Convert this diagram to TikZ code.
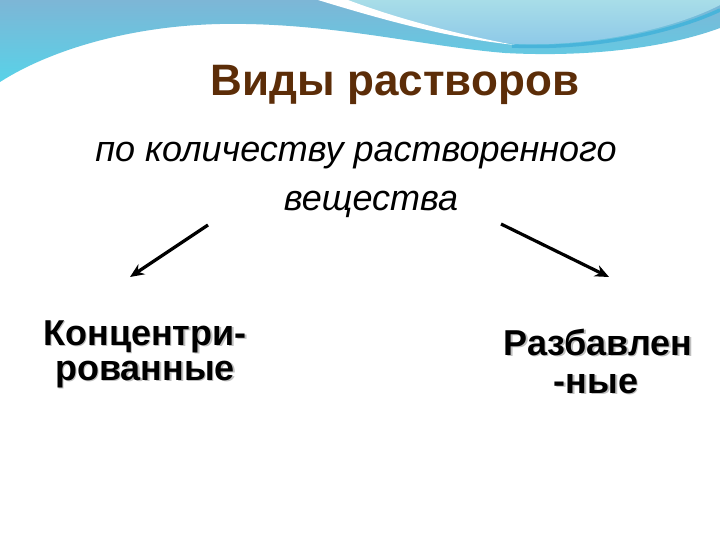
\documentclass[tikz,border=0pt]{standalone}
\usepackage{fontspec}
\setmainfont{Liberation Sans}
\usetikzlibrary{arrows.meta}
\definecolor{titlebrown}{HTML}{5C2D08}
\definecolor{wavetop}{HTML}{7DB6D6}
\definecolor{wavebot}{HTML}{58D2E8}
\definecolor{wavelight}{HTML}{A8DDE8}
\definecolor{wavelight2}{HTML}{8CC8E8}
\definecolor{waveband}{HTML}{48B4DA}
\newcommand{\shtext}[1]{\makebox[0pt][l]{\raisebox{-1.6pt}{\hspace{1.6pt}\textcolor{black!25}{#1}}}#1}
\tikzset{
  titletext/.style={anchor=base, inner sep=0pt, text=titlebrown, font=\fontsize{44}{48}\selectfont\bfseries},
  subtext/.style={anchor=base, inner sep=0pt, font=\fontsize{36}{40}\selectfont\itshape},
  kindtext/.style={anchor=base, inner sep=0pt, text height=26pt, text depth=7pt, font=\fontsize{36}{40}\selectfont\bfseries},
  branch/.style={line width=3.2pt, -{Stealth[length=14pt,width=12pt]}}
}
\begin{document}
\begin{tikzpicture}[x=1pt,y=-1pt]
\useasboundingbox (0,0) rectangle (720,540);
\fill[white] (0,0) rectangle (720,540);
% background wave
\shade[top color=wavetop, bottom color=wavebot]
  (0,0) -- (720,0) -- (720,28) .. controls (660,50) and (580,57) .. (505,53)
  .. controls (420,46) and (330,22) .. (220,24) .. controls (130,26) and (50,50) .. (0,82) -- cycle;
\shade[top color=wavelight, bottom color=wavelight2]
  (330,0) .. controls (400,22) and (460,38) .. (515,44) .. controls (600,47) and (680,26) .. (720,5) -- (720,0) -- cycle;
\draw[waveband, line width=3.5pt] (512,46) .. controls (600,50) and (680,29) .. (720,10);
\fill[white] (318,0) .. controls (390,22) and (450,38) .. (515,45) .. controls (450,33) and (390,16) .. (348,0) -- cycle;
% texts
\node[titletext] (title) at (395,96) {Виды растворов};
\node[subtext] (sub1) at (356,162) {по количеству растворенного};
\node[subtext] (sub2) at (371,211) {вещества};
\node[kindtext] (conc1) at (145,345) {\shtext{Концентри-}};
\node[kindtext] (conc2) at (145,380) {\shtext{рованные}};
\node[kindtext] (dil1) at (598,355) {\shtext{Разбавлен}};
\node[kindtext] (dil2) at (596,393) {\shtext{-ные}};
% arrows
\coordinate (lstart) at (208,225);
\coordinate (lend) at (130,277);
\coordinate (rstart) at (501,224);
\coordinate (rend) at (609,277);
\draw[branch] (lstart) -- (lend);
\draw[branch] (rstart) -- (rend);
\end{tikzpicture}
\end{document}
